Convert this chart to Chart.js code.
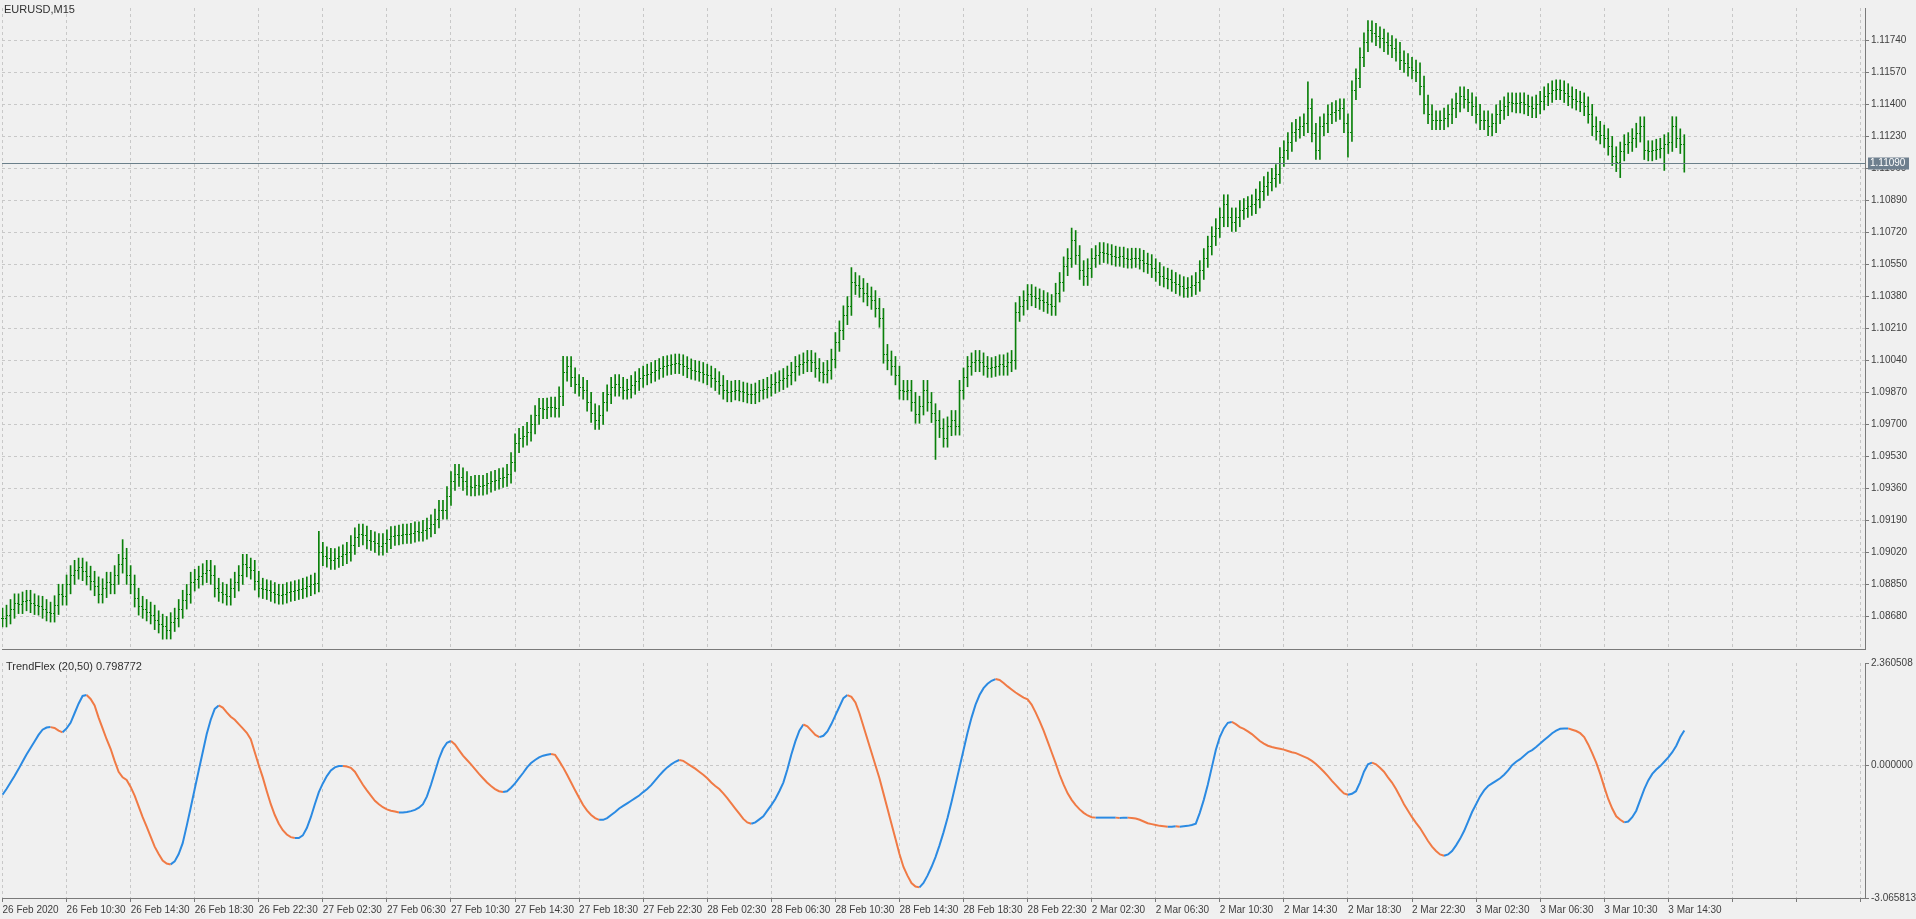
<!DOCTYPE html>
<html>
<head>
<meta charset="utf-8">
<script src="https://cdn.jsdelivr.net/npm/chart.js@4/dist/chart.umd.min.js"></script>
<style>
  html, body { margin: 0; padding: 0; background: #f0f0f0; overflow: hidden; }
  canvas { position: absolute; left: 0; }
  #priceChart { top: 0; }
  #flexChart { top: 655px; }
  .lbl { position: absolute; font: 11px "Liberation Sans", sans-serif; color: #303030; }
</style>
</head>
<body>
<canvas id="priceChart" width="1916" height="657"></canvas>
<canvas id="flexChart" width="1916" height="264"></canvas>
<div class="lbl" style="left:4px;top:3px">EURUSD,M15</div>
<div class="lbl" style="left:6px;top:660px">TrendFlex (20,50) 0.798772</div>
<script>
// prices in points: 1.08674 -> 8674
const closes = [
  8674,8690,8720,8750,8745,8760,8769,8750,8740,8737,
  8720,8706,8700,8740,8801,8790,8850,8900,8928,8940,
  8920,8897,8870,8840,8801,8830,8865,8850,8900,8960,
  8992,8900,8850,8780,8737,8720,8706,8690,8660,8642,
  8630,8610,8650,8674,8720,8769,8800,8865,8880,8897,
  8910,8928,8900,8833,8810,8801,8790,8830,8865,8900,
  8960,8940,8928,8870,8833,8825,8820,8810,8801,8795,
  8801,8810,8814,8820,8825,8833,8840,8850,8860,9024,
  9000,8992,8980,8990,9000,9010,9024,9060,9100,9120,
  9110,9088,9080,9070,9056,9070,9090,9107,9110,9115,
  9120,9118,9125,9132,9130,9140,9152,9170,9200,9247,
  9247,9320,9400,9438,9420,9400,9374,9370,9380,9374,
  9380,9390,9400,9406,9415,9420,9438,9500,9600,9629,
  9640,9661,9700,9750,9788,9780,9790,9795,9788,9850,
  9980,10011,9950,9915,9900,9884,9820,9760,9724,9750,
  9820,9860,9900,9915,9900,9884,9890,9910,9930,9947,
  9960,9970,9979,9990,10000,10011,10015,10020,10024,10020,
  10010,9998,9990,9985,9979,9970,9960,9947,9930,9910,
  9884,9870,9880,9884,9875,9870,9864,9860,9870,9884,
  9890,9900,9915,9925,9935,9947,9960,9980,10011,10020,
  10030,10043,10030,10000,9979,9970,9990,10050,10138,10200,
  10280,10329,10457,10440,10425,10400,10380,10361,10320,10266,
  10075,10040,10011,9960,9884,9880,9884,9820,9756,9800,
  9884,9820,9760,9724,9680,9629,9690,9724,9693,9884,
  9950,10011,10030,10043,10030,10011,10000,10005,10011,10020,
  10011,10030,10043,10297,10330,10360,10393,10380,10370,10361,
  10350,10340,10329,10400,10457,10540,10584,10680,10600,10520,
  10488,10530,10584,10600,10616,10610,10605,10597,10590,10592,
  10584,10580,10586,10584,10575,10560,10552,10530,10510,10488,
  10480,10470,10457,10445,10435,10425,10430,10440,10457,10520,
  10584,10650,10700,10743,10800,10870,10800,10775,10800,10839,
  10850,10860,10870,10900,10940,10966,10990,11010,11030,11120,
  11157,11200,11253,11270,11284,11300,11380,11250,11157,11284,
  11300,11348,11360,11370,11380,11300,11253,11475,11539,11650,
  11730,11794,11780,11762,11750,11730,11715,11698,11680,11635,
  11620,11600,11585,11571,11500,11400,11348,11316,11316,11316,
  11330,11348,11380,11410,11443,11430,11411,11390,11350,11316,
  11316,11284,11300,11348,11370,11390,11411,11410,11405,11411,
  11400,11390,11380,11400,11420,11443,11460,11475,11480,11475,
  11460,11443,11430,11420,11411,11390,11350,11284,11260,11240,
  11221,11180,11125,11093,11150,11189,11200,11221,11250,11284,
  11157,11150,11157,11165,11170,11189,11200,11284,11220,11189,
  11090
];
// long wicks seen in the picture: [bar, high, low]
const spikes = [
  [30, 9088, null], [40, null, 8559], [79, 9132, null], [140, 10062, null],
  [212, 10533, null], [233, null, 9514], [267, 10743, null], [341, 11845, null],
  [326, 11520, null], [336, null, 11120],
  [404, null, 11011], [415, null, 11049], [417, 11335, null]
];
const trendFlex = [
  -0.68,-0.55,-0.40,-0.25,-0.09,0.08,0.25,0.40,0.55,0.70,
  0.82,0.87,0.88,0.86,0.80,0.76,0.85,0.98,1.20,1.42,
  1.60,1.62,1.53,1.38,1.10,0.85,0.60,0.38,0.10,-0.15,
  -0.28,-0.34,-0.50,-0.70,-0.95,-1.20,-1.42,-1.65,-1.88,-2.05,
  -2.20,-2.27,-2.29,-2.22,-2.05,-1.80,-1.40,-0.98,-0.55,-0.12,
  0.30,0.72,1.05,1.30,1.38,1.33,1.22,1.12,1.05,0.95,
  0.85,0.75,0.60,0.30,0.00,-0.28,-0.60,-0.90,-1.15,-1.35,
  -1.50,-1.60,-1.66,-1.68,-1.68,-1.62,-1.45,-1.20,-0.90,-0.62,
  -0.42,-0.25,-0.12,-0.05,-0.02,-0.02,-0.03,-0.06,-0.15,-0.30,
  -0.45,-0.58,-0.70,-0.82,-0.90,-0.97,-1.02,-1.05,-1.07,-1.09,
  -1.09,-1.08,-1.06,-1.03,-0.98,-0.90,-0.72,-0.45,-0.15,0.15,
  0.38,0.52,0.56,0.48,0.35,0.22,0.12,0.02,-0.09,-0.20,
  -0.30,-0.40,-0.48,-0.55,-0.60,-0.62,-0.60,-0.52,-0.42,-0.30,
  -0.18,-0.05,0.05,0.12,0.18,0.22,0.24,0.26,0.24,0.10,
  -0.05,-0.22,-0.40,-0.58,-0.75,-0.92,-1.05,-1.15,-1.22,-1.26,
  -1.26,-1.22,-1.15,-1.08,-1.00,-0.94,-0.88,-0.82,-0.76,-0.70,
  -0.62,-0.55,-0.46,-0.35,-0.24,-0.14,-0.05,0.02,0.08,0.12,
  0.10,0.04,-0.02,-0.08,-0.15,-0.22,-0.30,-0.40,-0.48,-0.55,
  -0.65,-0.76,-0.88,-1.00,-1.12,-1.24,-1.32,-1.35,-1.32,-1.25,
  -1.18,-1.05,-0.92,-0.78,-0.60,-0.40,-0.10,0.25,0.55,0.80,
  0.94,0.90,0.80,0.70,0.65,0.68,0.78,0.95,1.15,1.35,
  1.55,1.62,1.58,1.45,1.20,0.90,0.60,0.30,0.00,-0.30,
  -0.65,-1.00,-1.35,-1.70,-2.05,-2.35,-2.55,-2.72,-2.80,-2.82,
  -2.72,-2.55,-2.35,-2.12,-1.85,-1.55,-1.22,-0.85,-0.45,-0.05,
  0.35,0.75,1.10,1.40,1.62,1.78,1.88,1.95,1.99,1.97,
  1.90,1.82,1.75,1.68,1.62,1.56,1.52,1.40,1.22,1.02,
  0.80,0.55,0.30,0.05,-0.22,-0.45,-0.65,-0.80,-0.92,-1.02,
  -1.10,-1.16,-1.20,-1.21,-1.21,-1.21,-1.21,-1.21,-1.21,-1.22,
  -1.21,-1.21,-1.22,-1.23,-1.26,-1.30,-1.34,-1.36,-1.38,-1.40,
  -1.41,-1.42,-1.42,-1.41,-1.42,-1.41,-1.40,-1.38,-1.35,-1.10,
  -0.80,-0.45,-0.05,0.35,0.65,0.85,0.98,1.00,0.95,0.88,
  0.84,0.78,0.72,0.64,0.56,0.50,0.45,0.42,0.40,0.38,
  0.36,0.33,0.30,0.28,0.24,0.20,0.16,0.10,0.03,-0.06,
  -0.15,-0.25,-0.36,-0.46,-0.56,-0.65,-0.68,-0.66,-0.60,-0.40,
  -0.15,0.02,0.06,0.02,-0.06,-0.15,-0.28,-0.40,-0.55,-0.72,
  -0.90,-1.05,-1.20,-1.33,-1.45,-1.60,-1.75,-1.88,-1.98,-2.06,
  -2.09,-2.06,-1.98,-1.85,-1.70,-1.52,-1.30,-1.08,-0.90,-0.72,
  -0.58,-0.48,-0.42,-0.36,-0.30,-0.22,-0.12,0.00,0.08,0.14,
  0.22,0.30,0.35,0.42,0.50,0.58,0.66,0.74,0.80,0.84,
  0.85,0.85,0.82,0.79,0.74,0.65,0.48,0.28,0.06,-0.20,
  -0.50,-0.78,-1.00,-1.18,-1.26,-1.32,-1.30,-1.20,-1.05,-0.80,
  -0.55,-0.35,-0.20,-0.10,-0.02,0.08,0.18,0.30,0.45,0.65,
  0.80
];
const timeLabels = [
  '26 Feb 2020','26 Feb 10:30','26 Feb 14:30','26 Feb 18:30','26 Feb 22:30',
  '27 Feb 02:30','27 Feb 06:30','27 Feb 10:30','27 Feb 14:30','27 Feb 18:30','27 Feb 22:30',
  '28 Feb 02:30','28 Feb 06:30','28 Feb 10:30','28 Feb 14:30','28 Feb 18:30','28 Feb 22:30',
  '2 Mar 02:30','2 Mar 06:30','2 Mar 10:30','2 Mar 14:30','2 Mar 18:30','2 Mar 22:30',
  '3 Mar 02:30','3 Mar 06:30','3 Mar 10:30','3 Mar 14:30'
];
const priceTicks = [];
for (let p = 8680; p <= 11740; p += 170) priceTicks.push(p);
const flexTicks = [-3.065813, 0, 2.360508];
const lastPrice = 11090;

const toPrice = v => 1 + v / 100000;
const WICK = 50;
const GREEN = '#0a800a';
const GRID = '#c8c8c8';
const AXIS = '#7a7a7a';
const FONT = { family: 'Liberation Sans', size: 10 };
Chart.defaults.color = '#404040';
Chart.defaults.animation = false;

const ohlc = closes.map((c, i) => {
  const o = i ? closes[i - 1] : c;
  let h = Math.max(o, c) + WICK, l = Math.min(o, c) - WICK;
  spikes.forEach(s => { if (s[0] === i) { if (s[1]) h = s[1]; if (s[2]) l = s[2]; } });
  return { x: i, o, c, h, l };
});

const xMin = -0.125, xMax = 465.125;
const gridX = [];
for (let i = 0; i <= 464; i += 16) gridX.push(i);

function xScale(showLabels) {
  return {
    type: 'linear', min: xMin, max: xMax, offset: false,
    afterBuildTicks: s => { s.ticks = gridX.map(v => ({ value: v })); },
    afterFit: s => { s.height = showLabels ? 21 : 0; },
    grid: { color: GRID, offset: false, tickLength: showLabels ? 4 : 0, drawTicks: showLabels, tickColor: AXIS },
    border: { color: AXIS, dash: [3, 3], display: true },
    ticks: {
      display: showLabels, autoSkip: false, maxRotation: 0,
      align: 'start', padding: 2, font: FONT,
      callback: v => (v % 16 === 0 ? (timeLabels[v / 16] || '') : '')
    }
  };
}

const ohlcTicks = {
  id: 'ohlcTicks',
  afterDatasetsDraw(chart) {
    const { ctx, scales: { x, y } } = chart;
    ctx.save();
    ctx.strokeStyle = GREEN;
    ctx.lineWidth = 1;
    ctx.beginPath();
    ohlc.forEach(b => {
      const px = Math.floor(x.getPixelForValue(b.x)) + 0.5;
      const po = Math.round(y.getPixelForValue(toPrice(b.o))) + 0.5;
      const pc = Math.round(y.getPixelForValue(toPrice(b.c))) + 0.5;
      ctx.moveTo(px - 1.5, po); ctx.lineTo(px, po);
      ctx.moveTo(px, pc); ctx.lineTo(px + 1.5, pc);
    });
    ctx.stroke();
    // current price line and label
    const py = Math.round(y.getPixelForValue(toPrice(lastPrice))) + 0.5;
    ctx.strokeStyle = '#6a7f8a';
    ctx.beginPath();
    ctx.moveTo(chart.chartArea.left, py); ctx.lineTo(chart.chartArea.right, py);
    ctx.stroke();
    ctx.fillStyle = '#6e7f8e';
    ctx.fillRect(chart.chartArea.right + 3, py - 6, 41, 12);
    ctx.fillStyle = '#ffffff';
    ctx.font = '10px "Liberation Sans"';
    ctx.textBaseline = 'middle';
    ctx.fillText(toPrice(lastPrice).toFixed(5), chart.chartArea.right + 5, py);
    ctx.restore();
  }
};

new Chart(document.getElementById('priceChart'), {
  type: 'bar',
  data: {
    datasets: [{
      data: ohlc.map(b => ({ x: b.x, y: [toPrice(b.l), toPrice(b.h)] })),
      backgroundColor: GREEN, barThickness: 1, grouped: false
    }]
  },
  options: {
    responsive: false, devicePixelRatio: 1,
    layout: { padding: { top: 2, left: 2, bottom: 2 } },
    plugins: { legend: { display: false }, tooltip: { enabled: false } },
    scales: {
      x: xScale(false),
      y: {
        position: 'right', min: toPrice(8507), max: toPrice(11912),
        afterBuildTicks: s => { s.ticks = priceTicks.map(v => ({ value: toPrice(v) })); },
        afterFit: s => { s.width = 51; },
        grid: { color: GRID, tickLength: 4, tickColor: AXIS },
        border: { color: AXIS, dash: [3, 3] },
        ticks: { font: FONT, padding: 2, callback: v => v.toFixed(5) }
      }
    }
  },
  plugins: [ohlcTicks]
});

new Chart(document.getElementById('flexChart'), {
  type: 'line',
  data: {
    datasets: [{
      data: trendFlex.map((v, i) => ({ x: i, y: v })),
      borderWidth: 2, pointRadius: 0, tension: 0,
      borderColor: '#2b8ae2',
      segment: { borderColor: c => (c.p1.parsed.y >= c.p0.parsed.y ? '#2b8ae2' : '#f07a45') }
    }]
  },
  options: {
    responsive: false, devicePixelRatio: 1,
    layout: { padding: { top: 2, left: 2, bottom: 0 } },
    plugins: { legend: { display: false }, tooltip: { enabled: false } },
    scales: {
      x: xScale(true),
      y: {
        position: 'right', min: -3.065813, max: 2.360508,
        afterBuildTicks: s => { s.ticks = flexTicks.map(v => ({ value: v })); },
        afterFit: s => { s.width = 51; },
        grid: { color: c => (c.tick && c.tick.value === 0 ? GRID : 'rgba(0,0,0,0)'), tickLength: 4, tickColor: AXIS },
        border: { color: AXIS, dash: [3, 3] },
        ticks: { font: FONT, padding: 2, callback: v => v.toFixed(6) }
      }
    }
  }
});
</script>
</body>
</html>
